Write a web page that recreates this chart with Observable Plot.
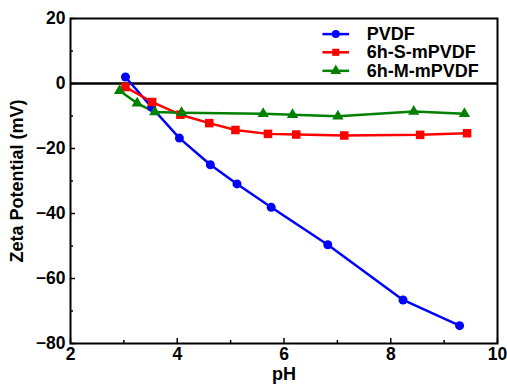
<!DOCTYPE html>
<html>
<head>
<meta charset="utf-8">
<script src="https://cdn.jsdelivr.net/npm/d3@7"></script>
<script src="https://cdn.jsdelivr.net/npm/@observablehq/plot@0.6"></script>
<style>
  html, body { margin: 0; padding: 0; background: #fff; }
  #chart { width: 507px; height: 385px; overflow: hidden; }
</style>
</head>
<body>
<div id="chart"></div>
<script>
const seriesNames = ["PVDF", "6h-S-mPVDF", "6h-M-mPVDF"];
const seriesColors = ["#0000ff", "#ff0000", "#008000"];
const seriesSymbols = ["circle", "square", "triangle"];

const pvdfPH   = [3.03, 3.52, 4.04, 4.62, 5.12, 5.76, 6.82, 8.23, 9.29];
const pvdfZeta = [2.0, -7.3, -16.8, -25.0, -30.9, -38.1, -49.6, -66.6, -74.5];

const sPH   = [3.03, 3.53, 4.06, 4.60, 5.09, 5.70, 6.23, 7.13, 8.55, 9.43];
const sZeta = [-1.1, -5.7, -9.6, -12.2, -14.3, -15.5, -15.7, -16.0, -15.8, -15.3];

const mPH   = [2.92, 3.25, 3.58, 4.08, 5.61, 6.16, 7.01, 8.43, 9.38];
const mZeta = [-2.2, -6.1, -8.8, -9.0, -9.3, -9.6, -10.1, -8.6, -9.3];

const xMajor = [2, 4, 6, 8, 10];
const xMinor = [3, 5, 7, 9];
const yMajor = [20, 0, -20, -40, -60, -80];
const yMinor = [10, -10, -30, -50, -70];

const xLabel = "pH";
const yLabel = "Zeta Potential (mV)";

const rows = [];
[[pvdfPH, pvdfZeta], [sPH, sZeta], [mPH, mZeta]].forEach(([xs, ys], i) => {
  xs.forEach((x, j) => rows.push({series: seriesNames[i], x, y: ys[j]}));
});

// legend layout (data-space anchors for legend rows)
const legendRows = seriesNames.map((name, i) => ({name, i}));
const legX0 = 6.72, legX1 = 7.22, legXText = 7.55;
const legY = [15.2, 9.6, 3.9];

const font = "'Liberation Sans', Arial, Helvetica, sans-serif";

const plot = Plot.plot({
  width: 507,
  height: 385,
  marginLeft: 70,
  marginRight: 10,
  marginTop: 18,
  marginBottom: 42,
  style: {fontFamily: font, fontWeight: "bold", fontSize: "16px", color: "#000", background: "#fff"},
  x: {domain: [2, 10], label: null},
  y: {domain: [-80, 20], label: null},
  color: {domain: seriesNames, range: seriesColors},
  symbol: {domain: seriesNames, range: seriesSymbols},
  marks: [
    Plot.ruleY([0], {stroke: "#000", strokeWidth: 2.5}),
    Plot.line(rows, {x: "x", y: "y", z: "series", stroke: "series", strokeWidth: 2.5}),
    Plot.dot(rows.filter(d => d.series === "PVDF"), {x: "x", y: "y", fill: "series", symbol: "series", r: 4.5}),
    Plot.dot(rows.filter(d => d.series === "6h-S-mPVDF"), {x: "x", y: "y", fill: "series", symbol: "series", r: 4.8}),
    Plot.dot(rows.filter(d => d.series === "6h-M-mPVDF"), {x: "x", y: "y", fill: "series", symbol: "series", r: 4.2}),
    // inward ticks
    Plot.axisX({ticks: xMajor, tickSize: -5, tickFormat: () => "", strokeWidth: 1.5}),
    Plot.axisX({ticks: xMinor, tickSize: -3, tickFormat: () => "", strokeWidth: 1.5}),
    Plot.axisY({ticks: yMajor, tickSize: -5, tickFormat: () => "", strokeWidth: 1.5}),
    Plot.axisY({ticks: yMinor, tickSize: -3, tickFormat: () => "", strokeWidth: 1.5}),
    // labels
    Plot.axisX({ticks: xMajor, tickSize: 0, tickPadding: 4, tickFormat: d => String(d), fontSize: 17.5, label: null}),
    Plot.axisY({ticks: yMajor, tickSize: 0, tickPadding: 5, tickFormat: d => d < 0 ? "\u2212" + Math.abs(d) : String(d), fontSize: 17.5, label: null}),
    Plot.frame({stroke: "#000", strokeWidth: 2}),
    Plot.text([xLabel], {x: () => 6, y: () => -80, dy: 24, text: d => d, fontSize: 18, fontWeight: "bold", lineAnchor: "top"}),
    Plot.text([yLabel], {x: () => 2, y: () => -30, dx: -53, rotate: -90, text: d => d, fontSize: 18, fontWeight: "bold", textAnchor: "middle"}),
    // legend
    Plot.link(legendRows, {x1: () => legX0, x2: () => legX1, y1: d => legY[d.i], y2: d => legY[d.i], stroke: d => seriesColors[d.i], strokeWidth: 2.5}),
    Plot.dot(legendRows, {x: () => (legX0 + legX1) / 2, y: d => legY[d.i], fill: d => seriesColors[d.i], symbol: d => seriesSymbols[d.i], r: 4}),
    Plot.text(legendRows, {x: () => legXText, y: d => legY[d.i], text: "name", textAnchor: "start", fontSize: 18, fontWeight: "bold", fill: "#000"})
  ]
});
document.getElementById("chart").appendChild(plot);
</script>
</body>
</html>
